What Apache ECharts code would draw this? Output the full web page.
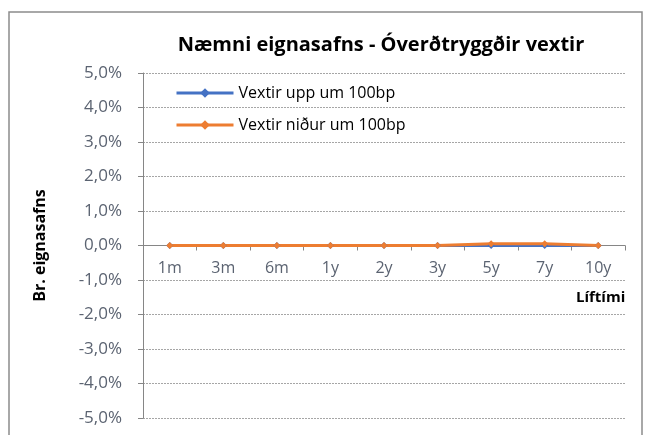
<!DOCTYPE html>
<html>
<head>
<meta charset="utf-8">
<script src="https://cdn.jsdelivr.net/npm/echarts@6/dist/echarts.min.js"></script>
<style>
  html, body { margin: 0; padding: 0; background: #fff; }
  #main { width: 645px; height: 435px; }
</style>
</head>
<body>
<div id="main"></div>
<script>
// gögn lesin af myndinni
var categories = ['1m', '3m', '6m', '1y', '2y', '3y', '5y', '7y', '10y'];
var vextirUpp = [0, 0, 0, 0, 0, 0, 0, 0, 0];
var vextirNidur = [0, 0, 0, 0, 0, 0, 0.05, 0.05, 0];
var seriesNames = ['Vextir upp um 100bp', 'Vextir niður um 100bp'];

var font = '"Open Sans", sans-serif';
var myChart = echarts.init(document.getElementById('main'));

var option = {
    animation: false,
    color: ['#4472C4', '#ED7D31'],
    title: {
        text: 'Næmni eignasafns - Óverðtryggðir vextir',
        left: 376,
        top: 30,
        textAlign: 'center',
        textStyle: { fontFamily: font, fontSize: 20, fontWeight: 'bold', color: '#000' }
    },
    legend: {
        orient: 'vertical',
        left: 170,
        top: 80,
        itemWidth: 57,
        itemHeight: 12,
        itemGap: 16,
        lineStyle: { width: 3 },
        textStyle: { fontFamily: font, fontSize: 16, color: '#000' },
        data: seriesNames
    },
    grid: { left: 143, right: 20, top: 73, bottom: 17, outerBoundsMode: 'none' },
    xAxis: {
        type: 'category',
        data: categories,
        position: 'bottom',
        offset: -172.5,
        axisLine: { onZero: false, lineStyle: { color: '#868686', width: 1 } },
        axisTick: { show: true, length: 5, lineStyle: { color: '#868686' } },
        axisLabel: { margin: 15, fontFamily: font, fontSize: 16, color: '#5b6371' }
    },
    yAxis: {
        type: 'value',
        min: -5,
        max: 5,
        interval: 1,
        name: 'Br. eignasafns',
        nameLocation: 'middle',
        nameGap: 95,
        nameRotate: 90,
        nameTextStyle: { fontFamily: font, fontSize: 16, fontWeight: 'bold', color: '#000' },
        axisLine: { show: true, lineStyle: { color: '#868686' } },
        axisTick: { show: true, length: 5, lineStyle: { color: '#868686' } },
        axisLabel: {
            margin: 21,
            fontFamily: font,
            fontSize: 17,
            color: '#5b6371',
            formatter: function (v) { return v.toFixed(1).replace('.', ',') + '%'; }
        },
        splitLine: { lineStyle: { color: '#a6a6a6', type: [2, 1], width: 1 } }
    },
    graphic: [
        {
            type: 'rect',
            shape: { x: 9, y: 12, width: 633, height: 440 },
            style: { fill: 'none', stroke: '#8c8c8c', lineWidth: 1.5 },
            silent: true
        },
        {
            type: 'text',
            left: 576,
            top: 290,
            style: { text: 'Líftími', fontFamily: font, fontSize: 15, fontWeight: 'bold', fill: '#000' }
        }
    ],
    series: [
        {
            name: seriesNames[0],
            type: 'line',
            data: vextirUpp,
            symbol: 'diamond',
            symbolSize: 7,
            lineStyle: { width: 3 }
        },
        {
            name: seriesNames[1],
            type: 'line',
            data: vextirNidur,
            symbol: 'diamond',
            symbolSize: 7,
            lineStyle: { width: 3 }
        }
    ]
};
myChart.setOption(option);
</script>
</body>
</html>
